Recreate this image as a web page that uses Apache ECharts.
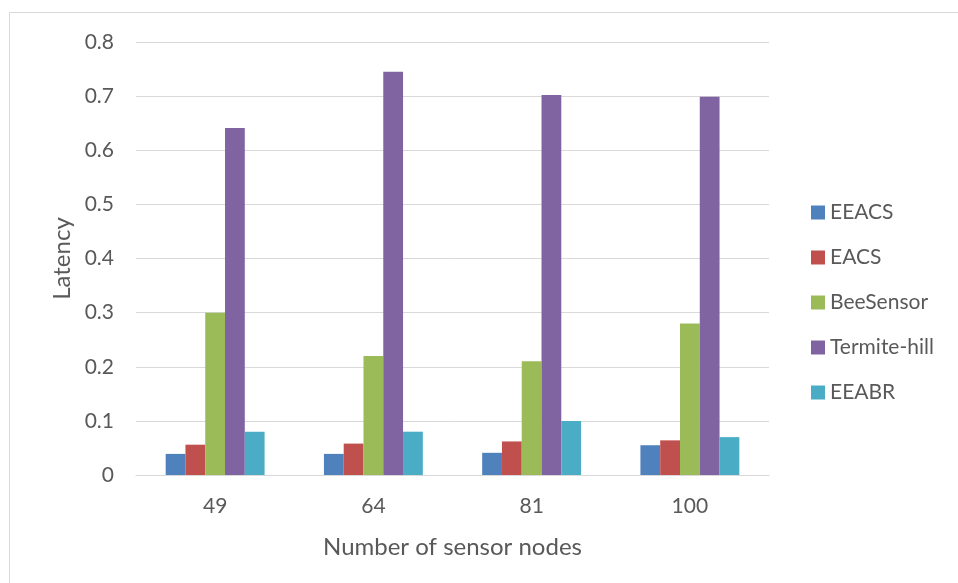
<!DOCTYPE html>
<html>
<head>
<meta charset="utf-8">
<script src="https://cdn.jsdelivr.net/npm/echarts@6/dist/echarts.min.js"></script>
<style>
  html, body { margin: 0; padding: 0; background: #fff; }
  #chart { width: 958px; height: 583px; }
</style>
</head>
<body>
<div id="chart"></div>
<script>
// Latency per routing protocol, grouped by network size
const categories = ['49', '64', '81', '100'];
const seriesNames = ['EEACS', 'EACS', 'BeeSensor', 'Termite-hill', 'EEABR'];
const eeacs = [0.039, 0.039, 0.041, 0.055];
const eacs = [0.056, 0.058, 0.062, 0.064];
const beeSensor = [0.30, 0.22, 0.21, 0.28];
const termiteHill = [0.641, 0.745, 0.702, 0.699];
const eeabr = [0.08, 0.08, 0.10, 0.07];
const colors = ['#4F81BD', '#C0504D', '#9BBB59', '#8064A2', '#4BACC6'];

const values = [eeacs, eacs, beeSensor, termiteHill, eeabr];
const textColor = '#595959';
const fontFamily = 'Lato, "Open Sans", sans-serif';

const chart = echarts.init(document.getElementById('chart'), null, { renderer: 'canvas' });
chart.setOption({
  animation: false,
  backgroundColor: '#fff',
  color: colors,
  graphic: [{
    type: 'rect',
    shape: { x: 9.5, y: 12.5, width: 960, height: 600 },
    style: { fill: 'none', stroke: '#d9d9d9', lineWidth: 1 },
    silent: true
  }],
  grid: { left: 136, right: 189, top: 42, bottom: 108 },
  legend: {
    orient: 'vertical',
    left: 811,
    top: 202,
    padding: 0,
    itemWidth: 14,
    itemHeight: 14,
    itemGap: 24,
    icon: 'rect',
    data: seriesNames,
    textStyle: { color: textColor, fontSize: 21, fontFamily: fontFamily }
  },
  xAxis: {
    type: 'category',
    data: categories,
    name: 'Number of sensor nodes',
    nameLocation: 'middle',
    nameGap: 60,
    nameTextStyle: { color: textColor, fontSize: 24, fontFamily: fontFamily },
    axisLine: { lineStyle: { color: '#d9d9d9', width: 1 } },
    axisTick: { show: false },
    axisLabel: { color: textColor, fontSize: 21, fontFamily: fontFamily, margin: 21 }
  },
  yAxis: {
    type: 'value',
    min: 0,
    max: 0.8,
    interval: 0.1,
    name: 'Latency',
    nameLocation: 'middle',
    nameGap: 62,
    nameTextStyle: { color: textColor, fontSize: 24, fontFamily: fontFamily },
    axisLine: { show: false },
    axisTick: { show: false },
    splitLine: { lineStyle: { color: '#d9d9d9', width: 1 } },
    axisLabel: {
      color: textColor, fontSize: 21, fontFamily: fontFamily, margin: 22,
      formatter: v => (v === 0 ? '0' : v.toFixed(1))
    }
  },
  series: seriesNames.map((name, i) => ({
    name: name,
    type: 'bar',
    data: values[i],
    barGap: '0%',
    barCategoryGap: '37.5%',
    itemStyle: { color: colors[i] }
  }))
});
</script>
</body>
</html>
